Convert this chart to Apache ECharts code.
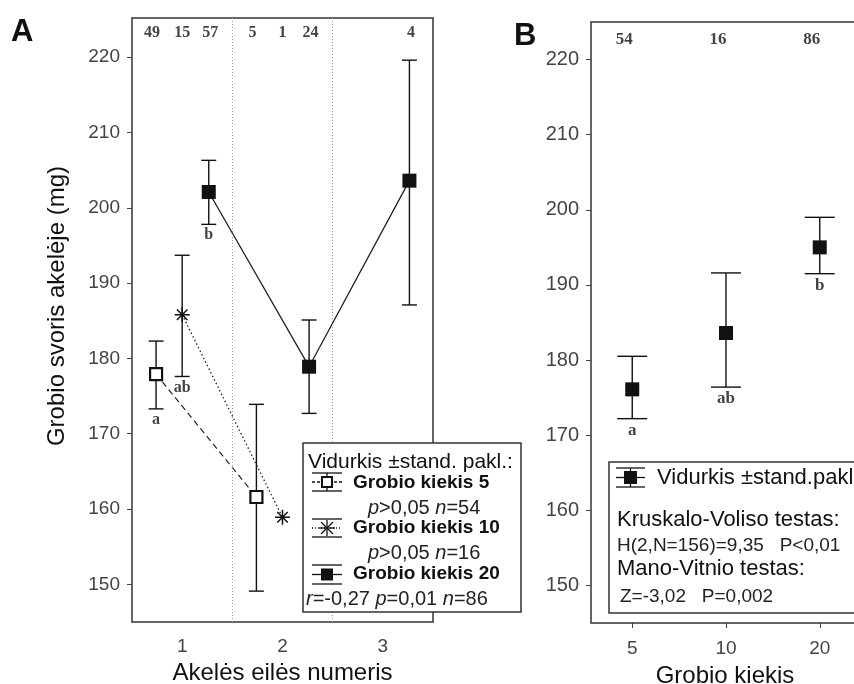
<!DOCTYPE html>
<html><head><meta charset="utf-8">
<script src="https://cdn.jsdelivr.net/npm/echarts@6/dist/echarts.min.js"></script>
<style>html,body{margin:0;padding:0;background:#fff}#c{width:854px;height:684px}</style>
</head><body><div id="c"></div>
<script>
// ---------- Panel A data ----------
const groupsA = [1, 2, 3];                 // Akelės eilės numeris
const xTickLabelsA = ['1', '2', '3'];
const yTickValues = [150, 160, 170, 180, 190, 200, 210, 220];

const prey5Mean = [177.9, 161.6, null];
const prey5Low  = [173.3, 149.1, null];
const prey5High = [182.3, 173.9, null];
const prey5N    = [49, 5, null];

const prey10Mean = [185.8, 158.9, null];
const prey10Low  = [177.6, null, null];
const prey10High = [193.7, null, null];
const prey10N    = [15, 1, null];

const prey20Mean = [202.1, 178.9, 203.6];
const prey20Low  = [197.8, 172.7, 187.1];
const prey20High = [206.3, 185.1, 219.6];
const prey20N    = [57, 24, 4];

const lettersA = ['a', 'ab', 'b'];          // group 1: prey 5, 10, 20

// ---------- Panel B data ----------
const categoriesB = ['5', '10', '20'];      // Grobio kiekis
const meanB = [176.1, 183.6, 195.0];
const lowB  = [172.2, 176.4, 191.5];
const highB = [180.5, 191.6, 199.0];
const nB    = [54, 16, 86];
const lettersB = ['a', 'ab', 'b'];

// ---------- helpers ----------
const SANS = 'Liberation Sans, Arial, sans-serif';
const SERIF = 'Liberation Serif, Times New Roman, serif';
const offs = [-0.26, 0, 0.265];
const countOffs = [-0.3, 0, 0.28];
const seriesA = [
  {mean: prey5Mean, low: prey5Low, high: prey5High, n: prey5N},
  {mean: prey10Mean, low: prey10Low, high: prey10High, n: prey10N},
  {mean: prey20Mean, low: prey20Low, high: prey20High, n: prey20N}
];
function pts(s, k) {
  const out = [];
  groupsA.forEach((g, i) => { if (s.mean[i] != null) out.push([g + offs[k], s.mean[i]]); });
  return out;
}
const errA = [];
seriesA.forEach((s, k) => groupsA.forEach((g, i) => {
  if (s.low[i] != null) errA.push([g + offs[k], s.low[i], s.high[i]]);
}));
const countsA = [];
seriesA.forEach((s, k) => groupsA.forEach((g, i) => {
  if (s.n[i] != null) countsA.push({value: [g + countOffs[k], 223.2], label: {formatter: String(s.n[i])}});
}));
const letterDataA = seriesA.map((s, k) => ({value: [groupsA[0] + offs[k], s.low[0]], label: {formatter: lettersA[k]}}));

const errB = categoriesB.map((c, i) => [i, lowB[i], highB[i]]);
const ptsB = categoriesB.map((c, i) => [i, meanB[i]]);
const letterDataB = categoriesB.map((c, i) => ({value: [i, lowB[i]], label: {formatter: lettersB[i]}}));
const countsB = categoriesB.map((c, i) => ({value: [i, 222.6], label: {formatter: String(nB[i])}}));

function errRender(capHalf) {
  return function (params, api) {
    const x = api.value(0);
    const pLo = api.coord([x, api.value(1)]);
    const pHi = api.coord([x, api.value(2)]);
    const st = {stroke: '#111', lineWidth: 1.4};
    return {type: 'group', children: [
      {type: 'line', shape: {x1: pLo[0], y1: pLo[1], x2: pHi[0], y2: pHi[1]}, style: st},
      {type: 'line', shape: {x1: pLo[0] - capHalf, y1: pLo[1], x2: pLo[0] + capHalf, y2: pLo[1]}, style: st},
      {type: 'line', shape: {x1: pHi[0] - capHalf, y1: pHi[1], x2: pHi[0] + capHalf, y2: pHi[1]}, style: st}
    ]};
  };
}
const STAR = 'path://M10,0 L10,20 M0,10 L20,10 M3,3 L17,17 M17,3 L3,17';

const yAxisCommon = {
  type: 'value', min: 145, axisLine: {show: false, onZero: false},
  splitLine: {show: false},
  axisTick: {show: true, length: 5, customValues: yTickValues, lineStyle: {color: '#444', width: 1}},
  axisLabel: {customValues: yTickValues, color: '#444', fontFamily: SANS, margin: 12}
};

const chart = echarts.init(document.getElementById('c'));
const option = {
  animation: false,
  backgroundColor: '#fff',
  grid: [
    {left: 132, top: 18, width: 301, height: 604, outerBoundsMode: 'none', containLabel: false,
     show: true, borderColor: '#333', borderWidth: 1.5, backgroundColor: 'transparent'},
    {left: 591, top: 22, width: 263, height: 601, outerBoundsMode: 'none', containLabel: false, show: false}
  ],
  xAxis: [
    {type: 'value', gridIndex: 0, min: 0.5, max: 3.5, axisLine: {show: false, onZero: false}, splitLine: {show: false},
     axisTick: {show: false},
     axisLabel: {customValues: groupsA, formatter: v => xTickLabelsA[groupsA.indexOf(v)], color: '#444', fontSize: 19, fontFamily: SANS, margin: 15},
     name: 'Akelės eilės numeris', nameLocation: 'middle', nameGap: 37,
     nameTextStyle: {fontSize: 24, fontFamily: SANS, color: '#111'}},
    {type: 'value', gridIndex: 1, min: -0.44, max: 2.3653, axisLine: {show: false, onZero: false}, splitLine: {show: false},
     axisTick: {show: true, length: 5, customValues: [0, 1, 2], lineStyle: {color: '#444'}},
     axisLabel: {customValues: [0, 1, 2], formatter: v => categoriesB[v], color: '#444', fontSize: 19, fontFamily: SANS, margin: 16},
     name: 'Grobio kiekis', nameLocation: 'middle', nameGap: 41,
     nameTextStyle: {fontSize: 24, fontFamily: SANS, color: '#111', padding: [0, 0, 0, 5]}}
  ],
  yAxis: [
    Object.assign({}, yAxisCommon, {gridIndex: 0, max: 225.2, axisLabel: Object.assign({}, yAxisCommon.axisLabel, {fontSize: 19})}),
    Object.assign({}, yAxisCommon, {gridIndex: 1, max: 225, axisLabel: Object.assign({}, yAxisCommon.axisLabel, {fontSize: 20})})
  ],
  series: [
    {type: 'line', xAxisIndex: 0, yAxisIndex: 0, data: pts(seriesA[0], 0), symbol: 'none',
     lineStyle: {color: '#222', width: 1.2, type: [6, 4]}, z: 2},
    {type: 'line', xAxisIndex: 0, yAxisIndex: 0, data: pts(seriesA[1], 1), symbol: 'none',
     lineStyle: {color: '#222', width: 1.3, type: [1.5, 2.5]}, z: 2},
    {type: 'line', xAxisIndex: 0, yAxisIndex: 0, data: pts(seriesA[2], 2), symbol: 'none',
     lineStyle: {color: '#222', width: 1.3}, z: 2,
     markLine: {silent: true, symbol: 'none', label: {show: false},
       lineStyle: {color: '#999', width: 1, type: [1, 2]},
       data: [{xAxis: 1.5}, {xAxis: 2.5}]}},
    {type: 'custom', xAxisIndex: 0, yAxisIndex: 0, data: errA, renderItem: errRender(7.5), encode: {x: 0, y: [1, 2]}, z: 3},
    {type: 'scatter', xAxisIndex: 0, yAxisIndex: 0, data: pts(seriesA[0], 0), symbol: 'rect', symbolSize: 12,
     itemStyle: {color: '#fff', borderColor: '#111', borderWidth: 2.2, opacity: 1}, z: 5},
    {type: 'scatter', xAxisIndex: 0, yAxisIndex: 0, data: pts(seriesA[1], 1), symbol: STAR, symbolSize: 15,
     itemStyle: {color: 'none', borderColor: '#111', borderWidth: 1.5, opacity: 1}, z: 5},
    {type: 'scatter', xAxisIndex: 0, yAxisIndex: 0, data: pts(seriesA[2], 2), symbol: 'rect', symbolSize: 14,
     itemStyle: {color: '#111', opacity: 1}, z: 5},
    {type: 'scatter', xAxisIndex: 0, yAxisIndex: 0, data: letterDataA, symbolSize: 0,
     label: {show: true, position: 'bottom', distance: 3, color: '#111', fontFamily: SERIF, fontWeight: 'bold', fontSize: 16}, z: 6},
    {type: 'scatter', xAxisIndex: 0, yAxisIndex: 0, data: countsA, symbolSize: 0,
     label: {show: true, position: 'inside', color: '#111', fontFamily: SERIF, fontWeight: 'bold', fontSize: 16}, z: 6},

    {type: 'custom', xAxisIndex: 1, yAxisIndex: 1, data: errB, renderItem: errRender(15), encode: {x: 0, y: [1, 2]}, z: 3},
    {type: 'scatter', xAxisIndex: 1, yAxisIndex: 1, data: ptsB, symbol: 'rect', symbolSize: 14,
     itemStyle: {color: '#111', opacity: 1}, z: 5},
    {type: 'scatter', xAxisIndex: 1, yAxisIndex: 1, data: letterDataB, symbolSize: 0,
     label: {show: true, position: 'bottom', distance: 3, color: '#111', fontFamily: SERIF, fontWeight: 'bold', fontSize: 17}, z: 6},
    {type: 'scatter', xAxisIndex: 1, yAxisIndex: 1, data: countsB, symbolSize: 0,
     label: {show: true, position: 'inside', offset: [-8, 0], color: '#111', fontFamily: SERIF, fontWeight: 'bold', fontSize: 17}, z: 6}
  ]
};

// ---------- legend / annotation graphics ----------
function txt(x, y, text, size, opts) {
  return Object.assign({type: 'text', x: x, y: y, z: 101, style: Object.assign({
    text: text, fontSize: size, fontFamily: SANS, fill: '#111', textVerticalAlign: 'middle', textAlign: 'left'
  }, opts || {})});
}
function ln(x1, y1, x2, y2, extra) {
  return {type: 'line', z: 101, shape: {x1, y1, x2, y2}, style: Object.assign({stroke: '#111', lineWidth: 1.3}, extra || {})};
}
const italicRich = {i: {fontStyle: 'italic', fontSize: 20, fontFamily: SANS, fill: '#222'}};
const g = [];
// Panel B frame (open on the right, as the panel is cut off there)
const frameStyle = {stroke: '#333', lineWidth: 1.5};
g.push({type: 'polyline', z: 1, shape: {points: [[854, 22], [591, 22], [591, 623], [854, 623]]}, style: Object.assign({fill: null}, frameStyle)});
// Panel letters
g.push(txt(11, 32, 'A', 31, {fontWeight: 'bold'}));
g.push(txt(514, 36, 'B', 31, {fontWeight: 'bold'}));
// Y-axis title
g.push({type: 'text', x: 57, y: 306, rotation: Math.PI / 2, z: 101,
  style: {text: 'Grobio svoris akelėje (mg)', fontSize: 24, fontFamily: SANS, fill: '#111', textAlign: 'center', textVerticalAlign: 'middle'}});
// Legend A box
g.push({type: 'rect', z: 100, shape: {x: 303, y: 443, width: 218, height: 169}, style: {fill: '#fff', stroke: '#333', lineWidth: 1.5}});
g.push(txt(308, 462, 'Vidurkis ±stand. pakl.:', 21));
// icon 1 (prey 5)
g.push(ln(312, 473, 342, 473), ln(312, 491, 342, 491), ln(327, 473, 327, 491));
g.push(ln(312, 482, 320, 482, {lineDash: [3, 2]}), ln(334, 482, 342, 482, {lineDash: [3, 2]}));
g.push({type: 'rect', z: 102, shape: {x: 322, y: 477, width: 10, height: 10}, style: {fill: '#fff', stroke: '#111', lineWidth: 2}});
g.push(txt(353, 483, 'Grobio kiekis 5', 19, {fontWeight: 'bold'}));
g.push(txt(368, 508, '{i|p}>0,05 {i|n}=54', 20, {rich: italicRich, fill: '#222'}));
// icon 2 (prey 10)
g.push(ln(312, 519, 342, 519), ln(312, 537, 342, 537));
g.push(ln(312, 528, 342, 528, {lineDash: [1, 2]}));
g.push(ln(327, 520, 327, 536), ln(319, 528, 335, 528), ln(321, 522, 333, 534), ln(333, 522, 321, 534));
g.push(txt(353, 528, 'Grobio kiekis 10', 19, {fontWeight: 'bold'}));
g.push(txt(368, 553, '{i|p}>0,05 {i|n}=16', 20, {rich: italicRich, fill: '#222'}));
// icon 3 (prey 20)
g.push(ln(312, 565, 342, 565), ln(312, 584, 342, 584), ln(312, 574.5, 342, 574.5));
g.push({type: 'rect', z: 102, shape: {x: 321, y: 568.5, width: 12, height: 12}, style: {fill: '#111'}});
g.push(txt(353, 574, 'Grobio kiekis 20', 19, {fontWeight: 'bold'}));
g.push(txt(306, 599, '{i|r}=-0,27 {i|p}=0,01 {i|n}=86', 20, {rich: italicRich, fill: '#222'}));
// Legend B box (open on the right, cut off)
g.push({type: 'rect', z: 100, shape: {x: 609, y: 462, width: 250, height: 151}, style: {fill: '#fff', stroke: null}});
g.push({type: 'polyline', z: 100, shape: {points: [[854, 462], [609, 462], [609, 613], [854, 613]]}, style: Object.assign({fill: null}, frameStyle)});
g.push(ln(616, 468, 645, 468), ln(616, 487, 645, 487), ln(630.5, 468, 630.5, 487), ln(616, 477.5, 645, 477.5));
g.push({type: 'rect', z: 102, shape: {x: 624, y: 471, width: 13, height: 13}, style: {fill: '#111'}});
g.push(txt(657, 478, 'Vidurkis ±stand.pakl', 22));
g.push(txt(617, 520, 'Kruskalo-Voliso testas:', 22));
g.push(txt(617, 546, 'H(2,N=156)=9,35   P<0,01', 19, {fill: '#222'}));
g.push(txt(617, 569, 'Mano-Vitnio testas:', 22));
g.push(txt(620, 597, 'Z=-3,02   P=0,002', 19, {fill: '#222'}));
option.graphic = g;

chart.setOption(option);
</script>
</body></html>
